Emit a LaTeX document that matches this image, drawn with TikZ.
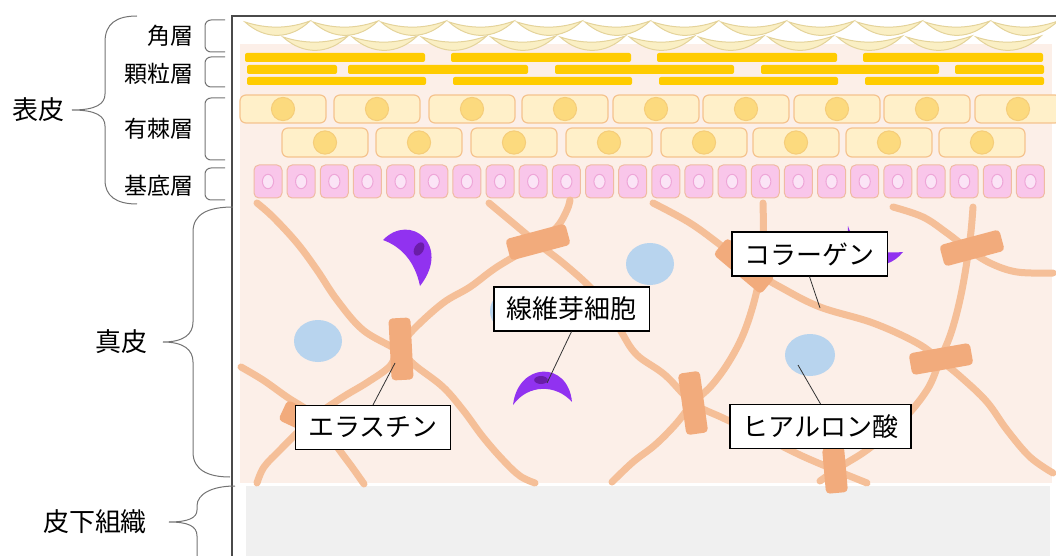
\documentclass[tikz,border=0pt]{standalone}
\usepackage{fontspec}
\setmainfont{Noto Sans CJK JP}

\definecolor{frameline}{HTML}{4A4A4A}
\definecolor{dermisbg}{HTML}{FCEFE8}
\definecolor{subcutisbg}{HTML}{F0F0F0}
\definecolor{hornyfill}{HTML}{FAEFC4}
\definecolor{hornyline}{HTML}{E4D39A}
\definecolor{grainbar}{HTML}{FFCC00}
\definecolor{spinyfill}{HTML}{FFF0C9}
\definecolor{spinyline}{HTML}{F5C38E}
\definecolor{spinycore}{HTML}{FCDA7E}
\definecolor{spinycoreline}{HTML}{F5CD7A}
\definecolor{basalfill}{HTML}{F9C6EA}
\definecolor{basalline}{HTML}{F0BBA2}
\definecolor{basalcore}{HTML}{FBE4F6}
\definecolor{basalcoreline}{HTML}{EEA6D8}
\definecolor{fibrecol}{HTML}{F5BF98}
\definecolor{elastincol}{HTML}{F2AB7C}
\definecolor{hyalcol}{HTML}{B8D4EE}
\definecolor{fibrocol}{HTML}{9132F0}
\definecolor{fibrocore}{HTML}{6A1DA8}

\begin{document}
\begin{tikzpicture}[x=0.5pt,y=-0.5pt,
  zonetxt/.style={font=\fontsize{13}{15}\selectfont, inner sep=0pt},
  layertxt/.style={font=\fontsize{11.5}{13}\selectfont, anchor=east, inner sep=0pt},
  brk/.style={draw=black!55, line width=0.5pt},
  horny/.style={fill=hornyfill, draw=hornyline, line width=0.5pt},
  grain/.style={fill=grainbar, rounded corners=1pt},
  spiny/.style={fill=spinyfill, draw=spinyline, line width=0.6pt, rounded corners=3pt},
  spinynuc/.style={fill=spinycore, draw=spinycoreline, line width=0.5pt},
  basal/.style={fill=basalfill, draw=basalline, line width=0.5pt, rounded corners=2.5pt},
  basalnuc/.style={fill=basalcore, draw=basalcoreline, line width=0.5pt},
  fibre/.style={draw=fibrecol, line width=3.5pt, line cap=round, line join=round},
  elastin/.style={fill=elastincol, rounded corners=2pt, minimum width=31pt, minimum height=11pt, inner sep=0pt},
  hyal/.style={fill=hyalcol},
  fibro/.style={fill=fibrocol},
  lbl/.style={draw=black, line width=0.6pt, fill=white, font=\fontsize{13}{15}\selectfont,
    minimum height=22pt, inner xsep=6.3pt, inner ysep=0pt},
  ptr/.style={draw=black!80, line width=0.4pt}]

\clip (0,0) rectangle (1056,556);

%% ── backgrounds ──────────────────────────────────────────
\fill[dermisbg] (240,44) rectangle (1052,483);
\fill[subcutisbg] (246,486) rectangle (1050,560);

%% ── epidermis ────────────────────────────────────────────
% horny layer scales
\foreach \i in {0,...,11}{
  \pgfmathsetmacro\cx{245+68*\i}
  \draw[horny] (\cx,22) .. controls (\cx+22,29) and (\cx+43,29) .. (\cx+65,21)
    .. controls (\cx+45,40) and (\cx+20,40) .. cycle;}
\foreach \i in {0,...,10}{
  \pgfmathsetmacro\cx{283+69.3*\i}
  \draw[horny] (\cx,37) .. controls (\cx+22,44) and (\cx+43,44) .. (\cx+65,36)
    .. controls (\cx+45,55) and (\cx+20,55) .. cycle;}

% granular layer
\foreach \x in {245,451,657,863}{\fill[grain] (\x,53) rectangle ++(180,9);}
\foreach \a/\b in {247/337,348/528,555/734,761/939,955/1044}{\fill[grain] (\a,65) rectangle (\b,74);}
\foreach \x in {247,453,659,865}{\fill[grain] (\x,77) rectangle ++(179,8);}

% spinous layer
\foreach \x in {240,334,429,522,613,703,794,884,975}{
  \draw[spiny] (\x,95) rectangle ++(86,28);
  \draw[spinynuc] (\x+43,109) circle [radius=5.8pt];}
\foreach \x in {282,376,471,566,661,753,846,939}{
  \draw[spiny] (\x,128) rectangle ++(86,29);
  \draw[spinynuc] (\x+43,142.5) circle [radius=5.8pt];}

% basal layer
\foreach \i in {0,...,23}{
  \pgfmathsetmacro\bx{254+33.15*\i}
  \draw[basal] (\bx,165) rectangle ++(28,33);
  \draw[basalnuc] (\bx+14,181.5) ellipse [x radius=2.8pt, y radius=3.6pt];}

%% ── dermis ───────────────────────────────────────────────
\draw[fibre] plot[smooth, tension=0.6] coordinates {(257,203) (273,217) (297,243) (317,270) (337,300) (363,330) (397,350) (417,367) (443,387) (463,410) (483,437) (503,460) (520,476) (535,483)};
\draw[fibre] plot[smooth, tension=0.6] coordinates {(397,350) (413,330) (443,303) (470,287) (497,267) (537,243) (557,227) (567,210) (570,200)};
\draw[fibre] plot[smooth, tension=0.6] coordinates {(489,203) (513,223) (537,243) (563,263) (590,287) (610,310) (622,333) (637,355) (665,375) (693,403) (723,418) (762,436) (800,455) (835,470) (867,483)};
\draw[fibre] plot[smooth, tension=0.6] coordinates {(241,367) (263,380) (287,397) (310,412) (325,428) (338,448) (352,467) (364,484)};
\draw[fibre] plot[smooth, tension=0.6] coordinates {(397,350) (390,366) (368,382) (343,397) (318,414) (298,432) (280,450) (264,467) (257,483)};
\draw[fibre] plot[smooth, tension=0.6] coordinates {(763,203) (763,250) (757,290) (745,330) (730,360) (712,385) (693,403) (675,425) (655,445) (633,462) (612,482)};
\draw[fibre] plot[smooth, tension=0.6] coordinates {(653,203) (690,223) (723,247) (752,270) (782,288) (820,307) (873,323) (917,343) (940,360) (962,378) (987,402) (1007,430) (1030,457) (1053,473)};
\draw[fibre] plot[smooth, tension=0.6] coordinates {(893,207) (923,217) (947,233) (968,249) (990,263) (1017,272) (1053,273)};
\draw[fibre] plot[smooth, tension=0.6] coordinates {(973,207) (970,240) (962,290) (952,330) (940,360) (927,390) (900,423) (867,450) (840,467) (820,481)};

% elastic fibres at the crossings
\node[elastin, rotate=-87] (el1) at (401,349) {};
\node[elastin, rotate=15] (el2) at (538,242) {};
\node[elastin, rotate=-25] (el3) at (311,423) {};
\node[elastin, rotate=-40] (el4) at (744,266) {};
\node[elastin, rotate=-82] (el5) at (693,403) {};
\node[elastin, rotate=-85, minimum width=23pt] (el6) at (835,470) {};
\node[elastin, rotate=15] (el7) at (972,248) {};
\node[elastin, rotate=10] (el8) at (941,359) {};

% hyaluronic acid
\fill[hyal] (318,341) ellipse [x radius=12pt, y radius=10.5pt];
\fill[hyal] (650,264) ellipse [x radius=12pt, y radius=10.5pt];
\fill[hyal] (512,311) ellipse [x radius=11pt, y radius=10.5pt];
\fill[hyal] (810,355) ellipse [x radius=12.5pt, y radius=10.5pt];

% fibroblasts
\fill[fibro] (383,240) .. controls (410,212) and (452,245) .. (420,286)
  .. controls (415,262) and (402,247) .. cycle;
\fill[fibrocore, rotate around={-30:(419,249)}] (419,249) ellipse [x radius=2.3pt, y radius=3.6pt];
\fill[fibro] (513,405) .. controls (518,362) and (568,360) .. (572,402)
  .. controls (556,384) and (528,384) .. cycle;
\fill[fibrocore] (541,380) ellipse [x radius=3.4pt, y radius=2pt];
\fill[fibro] (848,226) .. controls (855,250) and (880,254) .. (903,252)
  .. controls (885,275) and (845,270) .. cycle;

%% ── labels inside the section ────────────────────────────
\coordinate (colpt) at (820,308);
\coordinate (fibpt) at (547,383);
\coordinate (elapt) at (395,363);
\coordinate (hyapt) at (798,365);
\node[lbl] (collbl) at (809.5,254) {コラーゲン};
\node[lbl] (fiblbl) at (571.5,309) {線維芽細胞};
\node[lbl] (elalbl) at (373,427.5) {エラスチン};
\node[lbl] (hyalbl) at (820.5,426.5) {ヒアルロン酸};
\draw[ptr] (collbl.south) -- (colpt);
\draw[ptr] (fiblbl.south) -- (fibpt);
\draw[ptr] (elalbl.north) -- (elapt);
\draw[ptr] (hyalbl.north) -- (hyapt);

%% ── frame ────────────────────────────────────────────────
\draw[frameline, line width=1pt] (232,560) -- (232,16) -- (1060,16);

%% ── layer brackets and names ─────────────────────────────
\foreach \t/\b in {20/52,57/87,98/160,168/200}{
  \draw[brk, rounded corners=3pt] (225,\t) -- (205,\t) -- (205,\b) -- (225,\b);}
\node[layertxt] (horny) at (194,36) {角層};
\node[layertxt] (granular) at (194,74) {顆粒層};
\node[layertxt] (spinous) at (194,129) {有棘層};
\node[layertxt] (basalname) at (194,186) {基底層};

% zone braces
\draw[brk] (137,16) .. controls (116,16) and (105,24) .. (105,42) -- (105,94)
  .. controls (105,104) and (96,110) .. (72,110) .. controls (96,110) and (105,116) .. (105,126)
  -- (105,180) .. controls (105,196) and (116,204) .. (137,204);
\draw[brk] (233,207) .. controls (208,207) and (193,214) .. (193,232) -- (193,322)
  .. controls (193,334) and (184,342) .. (163,342) .. controls (184,342) and (193,350) .. (193,362)
  -- (193,452) .. controls (193,470) and (208,477) .. (230,477);
\draw[brk] (235,486) .. controls (212,486) and (197,494) .. (197,506) -- (197,510)
  .. controls (197,518) and (188,522) .. (169,522) .. controls (188,522) and (197,526) .. (197,536)
  -- (197,560);
\node[zonetxt] (epidermis) at (38,110) {表皮};
\node[zonetxt] (dermis) at (121,342) {真皮};
\node[zonetxt] (subcutis) at (95,522) {皮下組織};
\end{tikzpicture}
\end{document}
